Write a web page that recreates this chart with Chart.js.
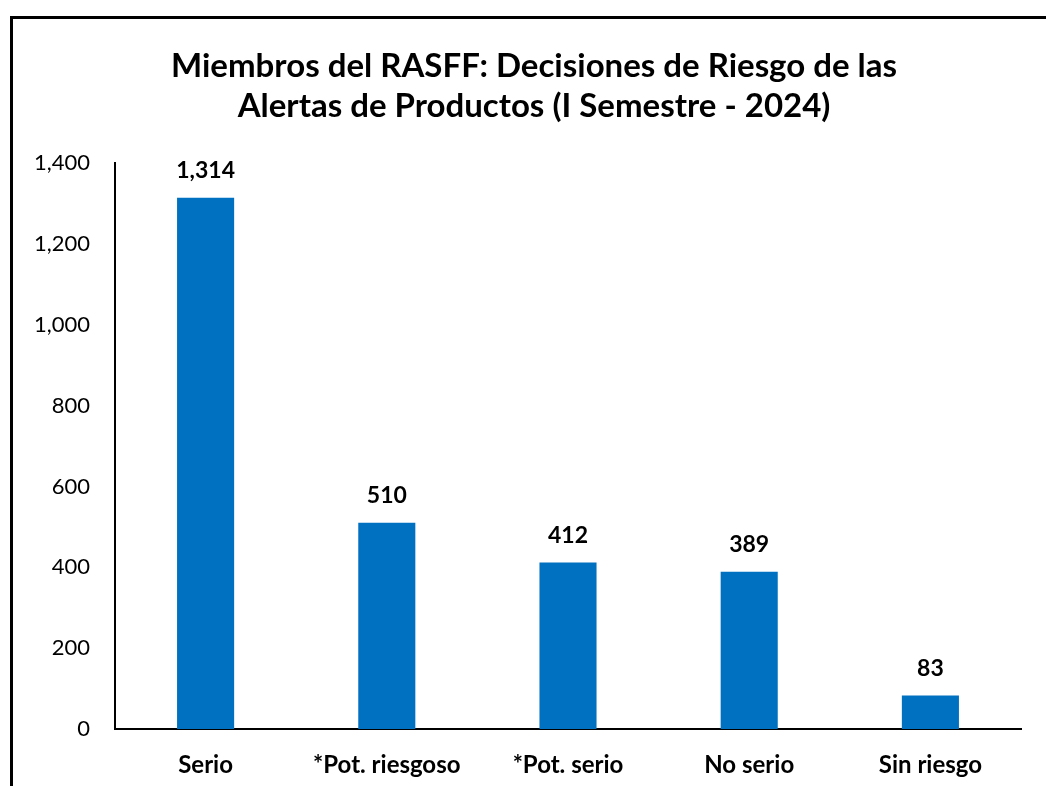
<!DOCTYPE html>
<html>
<head>
<meta charset="utf-8">
<script src="https://cdn.jsdelivr.net/npm/chart.js@4/dist/chart.umd.min.js"></script>
<style>
  html, body { margin: 0; padding: 0; background: #fff; overflow: hidden; }
  #wrap { position: absolute; left: 0; top: 0; width: 1046px; height: 786px; }
</style>
</head>
<body>
<div id="wrap"><canvas id="grafico"></canvas></div>
<script>
const categorias = ['Serio', '*Pot. riesgoso', '*Pot. serio', 'No serio', 'Sin riesgo'];
const decisiones = [1314, 510, 412, 389, 83];
const titulo = ['Miembros del RASFF: Decisiones de Riesgo de las', 'Alertas de Productos (I Semestre - 2024)'];

const fuente = 'Lato, "Open Sans", sans-serif';

// marco negro + título (centrado como en el original, algo a la derecha)
const marco = {
  id: 'marco',
  beforeDraw(chart) {
    const ctx = chart.ctx;
    ctx.save();
    ctx.fillStyle = '#fff';
    ctx.fillRect(0, 0, chart.width, chart.height);
    ctx.strokeStyle = '#000';
    ctx.lineWidth = 3;
    ctx.strokeRect(11.5, 17.5, 1100, 900);
    ctx.fillStyle = '#000';
    ctx.font = 'bold 33px ' + fuente;
    ctx.textAlign = 'center';
    ctx.textBaseline = 'middle';
    titulo.forEach((linea, i) => ctx.fillText(linea, 534, 66 + i * 40));
    ctx.restore();
  }
};

// etiquetas de valor encima de cada barra
const etiquetas = {
  id: 'etiquetas',
  afterDatasetsDraw(chart) {
    const ctx = chart.ctx;
    const meta = chart.getDatasetMeta(0);
    ctx.save();
    ctx.font = 'bold 23px ' + fuente;
    ctx.fillStyle = '#000';
    ctx.textAlign = 'center';
    ctx.textBaseline = 'middle';
    meta.data.forEach((bar, i) => {
      ctx.fillText(decisiones[i].toLocaleString('en-US'), bar.x, bar.y - 27);
    });
    ctx.restore();
  }
};

const ctx = document.getElementById('grafico').getContext('2d');
new Chart(ctx, {
  type: 'bar',
  data: {
    labels: categorias,
    datasets: [{
      data: decisiones,
      backgroundColor: '#0070C0',
      borderWidth: 0,
      categoryPercentage: 1,
      barPercentage: 0.315
    }]
  },
  options: {
    responsive: true,
    maintainAspectRatio: false,
    animation: false,
    layout: { padding: { left: 0, right: 25, top: 163, bottom: 0 } },
    plugins: {
      legend: { display: false },
      tooltip: { enabled: false },
      title: { display: false }
    },
    scales: {
      x: {
        grid: { display: false, drawTicks: false },
        border: { display: true, color: '#000', width: 2 },
        ticks: {
          color: '#000',
          padding: 22,
          font: { family: fuente, size: 24, weight: 'bold' }
        },
        afterFit(scale) { scale.height = 57; }
      },
      y: {
        min: 0,
        max: 1400,
        grid: { display: false, drawTicks: false },
        border: { display: true, color: '#000', width: 2 },
        ticks: {
          stepSize: 200,
          color: '#000',
          padding: 25,
          font: { family: fuente, size: 22 },
          callback: v => v.toLocaleString('en-US')
        },
        afterFit(scale) { scale.width = 115; }
      }
    }
  },
  plugins: [marco, etiquetas]
});
</script>
</body>
</html>
